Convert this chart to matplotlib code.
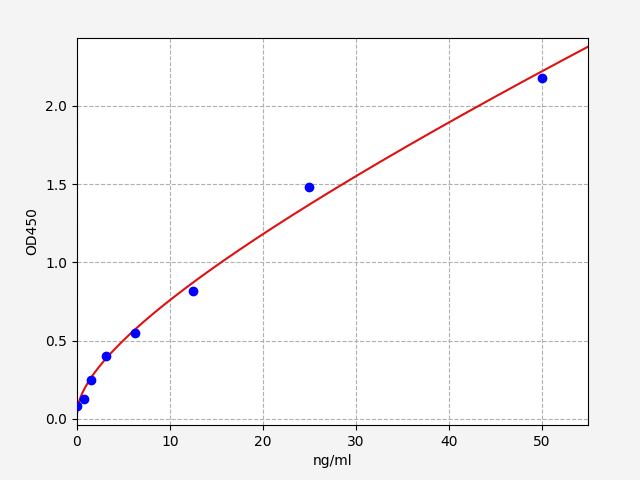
import numpy as np
import matplotlib
matplotlib.use('Agg')
import matplotlib.pyplot as plt

conc = [0, 0.78, 1.56, 3.125, 6.25, 12.5, 25, 50]
od = [0.08, 0.13, 0.25, 0.40, 0.55, 0.82, 1.48, 2.18]

# smooth standard curve fitted to the points (in sqrt(x) and x)
basis = lambda x: np.column_stack([np.ones_like(x), np.sqrt(x), x])
coef, *_ = np.linalg.lstsq(basis(np.array(conc, float)), np.array(od), rcond=None)
xs = np.linspace(0, 55, 300)
ys = basis(xs) @ coef

fig = plt.figure(figsize=(6.4, 4.8), dpi=100)
fig.patch.set_facecolor('#f4f4f4')
ax = fig.add_axes([0.12, 0.115, 0.799, 0.806])
ax.plot(xs, ys, color='#e01010', lw=1.5, zorder=2)
ax.scatter(conc, od, color='blue', s=36, zorder=3)
ax.set_xlim(0, 55)
ax.set_ylim(-0.038, 2.434)
ax.set_xticks([0, 10, 20, 30, 40, 50])
ax.set_yticks([0.0, 0.5, 1.0, 1.5, 2.0])
ax.grid(True, linestyle='--', color='#b0b0b0')
ax.set_xlabel('ng/ml')
ax.set_ylabel('OD450')
fig.savefig('out.png', dpi=100, facecolor=fig.get_facecolor())
